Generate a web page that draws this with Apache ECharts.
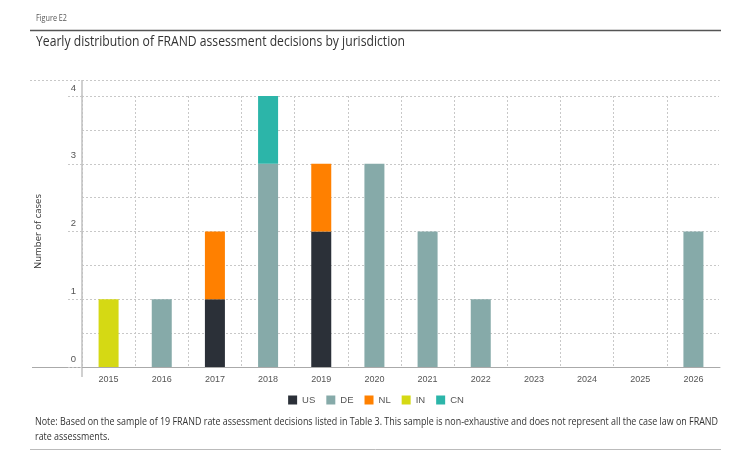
<!DOCTYPE html>
<html>
<head>
<meta charset="utf-8">
<script src="https://cdn.jsdelivr.net/npm/echarts@6/dist/echarts.min.js"></script>
<style>
html,body{margin:0;padding:0;background:#fff;}
#chart{width:752px;height:464px;}
</style>
</head>
<body>
<div id="chart"></div>
<script>
const years = ['2015','2016','2017','2018','2019','2020','2021','2022','2023','2024','2025','2026'];
const US = [0,0,1,0,2,0,0,0,0,0,0,0];
const DE = [0,1,0,3,0,3,2,1,0,0,0,2];
const NL = [0,0,1,0,1,0,0,0,0,0,0,0];
const IN = [1,0,0,0,0,0,0,0,0,0,0,0];
const CN = [0,0,0,1,0,0,0,0,0,0,0,0];
const yTicks = [0,1,2,3,4];

const figLabel = 'Figure E2';
const titleText = 'Yearly distribution of FRAND assessment decisions by jurisdiction';
const noteLine1 = 'Note: Based on the sample of 19 FRAND rate assessment decisions listed in Table 3. This sample is non-exhaustive and does not represent all the case law on FRAND';
const noteLine2 = 'rate assessments.';

const TFONT = "'Open Sans', sans-serif";
const FONT = "'Liberation Sans', sans-serif";
const colors = {US:'#2b3038', DE:'#86aaa9', NL:'#ff8000', IN:'#d5d914', CN:'#2cb5a9'};
const seriesDefs = [['US',US],['DE',DE],['NL',NL],['IN',IN],['CN',CN]];

// horizontal squeeze factor so text fits its measured width in the reference
const mctx = document.createElement('canvas').getContext('2d');
function fit(text, size, target){
  mctx.font = size + 'px ' + TFONT;
  return target / mctx.measureText(text).width;
}
const sFig = fit(figLabel, 8.5, 31);
const sTitle = fit(titleText, 14, 369);
const sNote = fit(noteLine1, 10.5, 683);

const chart = echarts.init(document.getElementById('chart'), null, {renderer:'canvas'});
chart.setOption({
  animation:false,
  textStyle:{fontFamily:FONT},
  legend:{
    top:390, left:'center', itemWidth:9, itemHeight:9, itemGap:11, icon:'rect',
    textStyle:{fontSize:9.5, color:'#555', fontFamily:FONT},
    data:seriesDefs.map(s=>s[0])
  },
  grid:{left:82, right:32, top:96, bottom:97, containLabel:false},
  xAxis:{
    type:'category', data:years,
    axisLine:{lineStyle:{color:'#aaa', width:1}},
    axisTick:{show:false},
    axisLabel:{fontSize:9, color:'#555', margin:8, fontFamily:FONT},
    splitLine:{show:true, interval:0, lineStyle:{color:'#c8c8c8', type:[2,2], width:1}}
  },
  yAxis:{
    type:'value', min:yTicks[0], max:yTicks[yTicks.length-1], interval:1,
    name:'Number of cases', nameLocation:'middle', nameGap:39, nameRotate:90,
    nameTextStyle:{fontSize:9.5, color:'#333', fontFamily:TFONT},
    axisLine:{show:true, lineStyle:{color:'#c0c0c0', width:1.5}},
    axisTick:{show:true, length:14, lineStyle:{color:'#c8c8c8', type:[2,2]}},
    axisLabel:{fontSize:9.5, color:'#555', margin:6, verticalAlign:'bottom', padding:[0,0,3,0], fontFamily:FONT},
    splitLine:{show:true, lineStyle:{color:'#c8c8c8', type:[2,2], width:1}},
    minorTick:{show:false, splitNumber:2},
    minorSplitLine:{show:true, lineStyle:{color:'#c8c8c8', type:[2,2], width:1}}
  },
  graphic:[
    {type:'line', shape:{x1:720,y1:96,x2:720,y2:366}, style:{stroke:'#fff', lineWidth:2}, z:1},
    {type:'line', shape:{x1:30,y1:30.5,x2:721,y2:30.5}, style:{stroke:'#555', lineWidth:1.5}},
    {type:'line', shape:{x1:30,y1:80.5,x2:721,y2:80.5}, style:{stroke:'#c8c8c8', lineWidth:1, lineDash:[2,2]}},
    {type:'line', shape:{x1:82,y1:80,x2:82,y2:96}, style:{stroke:'#c0c0c0', lineWidth:1.5}},
    {type:'line', shape:{x1:82,y1:367,x2:82,y2:377}, style:{stroke:'#c0c0c0', lineWidth:1.5}},
    {type:'line', shape:{x1:32,y1:367.5,x2:82,y2:367.5}, style:{stroke:'#aaa', lineWidth:1}},
    {type:'line', shape:{x1:30,y1:449.5,x2:721,y2:449.5}, style:{stroke:'#bbb', lineWidth:1}},
    {type:'text', x:36, y:14, scaleX:sFig, style:{text:figLabel, fontSize:8.5, fill:'#555', fontFamily:TFONT}},
    {type:'text', x:36, y:35, scaleX:sTitle, style:{text:titleText, fontSize:14, fill:'#333', fontFamily:TFONT}},
    {type:'text', x:35, y:415, scaleX:sNote, style:{
      text:noteLine1 + '\n' + noteLine2, fontSize:10.5, lineHeight:14.5, fill:'#333', fontFamily:TFONT}}
  ],
  series:seriesDefs.map(([name,vals])=>({
    name, type:'bar', stack:'total', data:vals, barWidth:20,
    itemStyle:{color:colors[name]}
  }))
});
</script>
</body>
</html>
